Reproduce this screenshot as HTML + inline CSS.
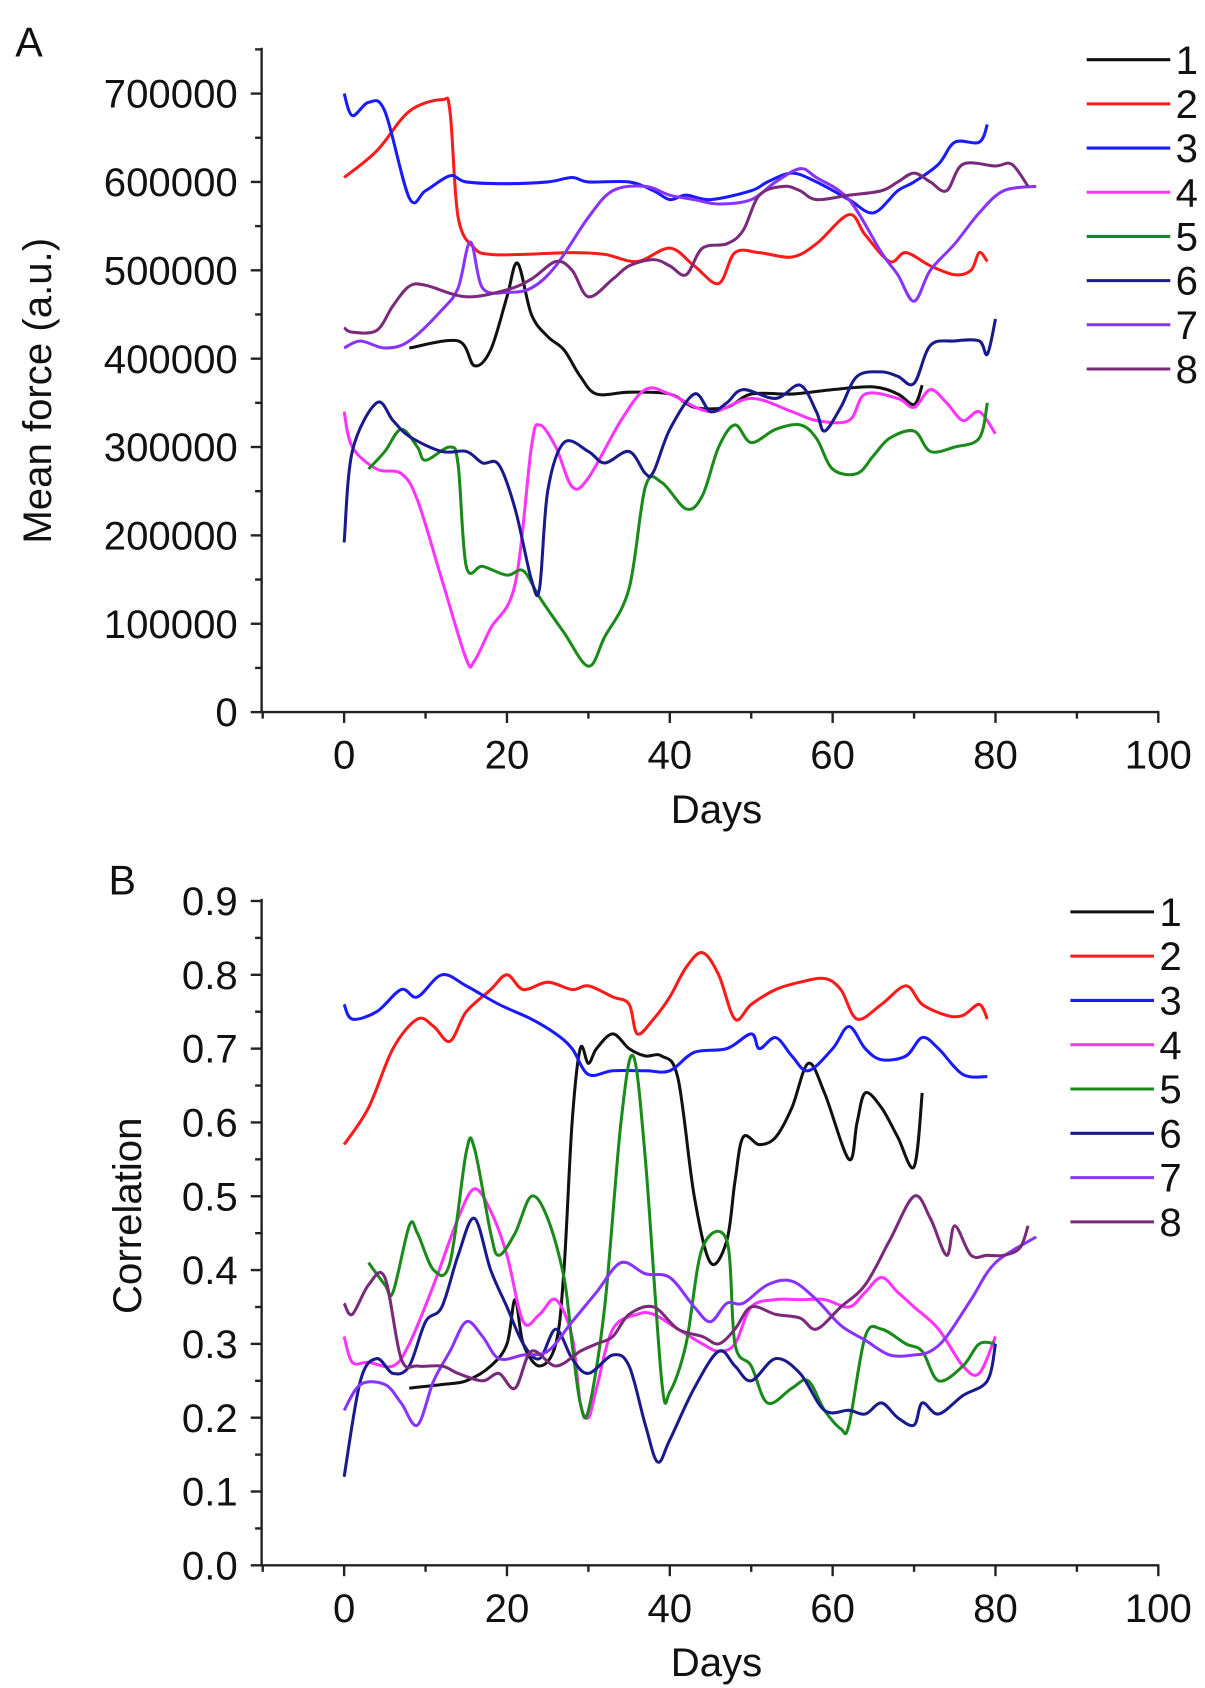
<!DOCTYPE html>
<html><head><meta charset="utf-8"><style>
html,body{margin:0;padding:0;background:#fff}
svg{display:block}
text{font-family:"Liberation Sans",sans-serif;fill:#111}
</style></head><body>
<svg id="fig" width="1205" height="1688" viewBox="0 0 1110 1555" preserveAspectRatio="none" xmlns="http://www.w3.org/2000/svg">
<text x="14" y="52" font-size="38">A</text>
<text x="100" y="824" font-size="38">B</text>
<g id="pa"></g>
<g id="pb"></g>
</svg>
<script>
const colors=["#111111","#ff1a1a","#1a1aff","#ff33ff","#1a8a1a","#1a1a8c","#8833ff","#7a2a7a"];
const seriesNames=["1","2","3","4","5","6","7","8"];
const xTicks=[0,20,40,60,80,100];
const aTicks=[0,100000,200000,300000,400000,500000,600000,700000];
const bTicks=["0.0","0.1","0.2","0.3","0.4","0.5","0.6","0.7","0.8","0.9"];
const a1=[[8,412],[14,420],[16,392],[18,410],[20,470],[21.3,508],[23,450],[25,425],[27,410],[29,380],[31,360],[35,362],[40,360],[43,345],[47,345],[50,360],[55,360],[60,365],[65,368],[68,360],[70,348],[71,370]];
const a2=[[0,605],[4,635],[8,680],[12,693],[13,680],[14,560],[16,525],[18,518],[22,518],[28,520],[32,518],[36,510],[40,525],[43,505],[46,485],[48,520],[51,520],[55,515],[58,530],[62,563],[64,540],[67,510],[69,520],[72,505],[75,495],[77,500],[78,520],[79,510]];
const a3=[[0,700],[1,675],[3,690],[5,680],[8,582],[10,590],[13,607],[15,600],[20,598],[25,600],[28,605],[30,600],[35,600],[38,590],[40,580],[42,585],[45,580],[50,590],[52,600],[55,610],[58,600],[62,580],[65,565],[68,590],[70,600],[73,620],[75,645],[78,645],[79,665]];
const a4=[[0,340],[1,300],[4,275],[7,270],[9,240],[12,150],[15,60],[16,58],[18,95],[21,145],[23,300],[24,325],[26,300],[28,255],[30,265],[34,330],[37,365],[40,360],[45,340],[50,355],[55,340],[58,330],[62,330],[64,360],[68,355],[70,345],[72,365],[74,350],[76,330],[78,340],[80,315]];
const a5=[[3,275],[5,295],[7,320],[9,300],[10,285],[13,300],[14,280],[15,165],[17,165],[20,155],[22,160],[24,130],[27,90],[30,52],[32,85],[35,140],[37,255],[39,260],[42,230],[44,245],[46,300],[48,325],[50,305],[53,320],[56,325],[58,310],[60,275],[63,270],[65,290],[67,310],[70,318],[72,295],[75,300],[78,310],[79,350]];
const a6=[[0,192],[1,295],[4,350],[6,330],[8,312],[12,295],[15,295],[17,282],[19,280],[21,230],[23,150],[24,140],[25,250],[27,305],[30,295],[32,282],[35,295],[37,270],[38,272],[40,320],[43,360],[45,340],[47,350],[49,365],[53,355],[56,370],[58,340],[59,318],[61,345],[63,380],[66,385],[68,380],[70,372],[72,415],[75,420],[78,420],[79,405],[80,445]];
const a7=[[0,412],[2,420],[5,412],[8,420],[12,455],[14,480],[15.5,532],[17,480],[20,475],[23,480],[26,505],[30,560],[33,590],[37,595],[40,585],[43,580],[46,575],[50,580],[53,600],[56,615],[58,605],[62,580],[66,520],[68,495],[70,465],[72,500],[75,530],[78,565],[81,590],[85,595]];
const a8=[[0,435],[1,430],[4,432],[6,460],[8,482],[10,483],[15,470],[20,478],[23,490],[26,510],[28,500],[30,470],[33,490],[35,505],[38,512],[40,505],[42,495],[44,525],[47,530],[49,545],[51,585],[54,595],[56,590],[58,580],[62,585],[66,590],[68,600],[70,610],[72,600],[74,590],[76,620],[80,618],[82,620],[84,595]];
const b1=[[8,0.24],[12,0.245],[15,0.25],[18,0.27],[20,0.3],[21,0.36],[22,0.3],[24,0.27],[26,0.3],[27,0.4],[28,0.6],[29,0.7],[30,0.68],[31,0.7],[33,0.72],[35,0.7],[37,0.69],[39,0.69],[41,0.66],[43,0.5],[45,0.41],[47,0.44],[48,0.52],[49,0.58],[51,0.57],[53,0.58],[55,0.62],[57,0.68],[59,0.64],[62,0.55],[63,0.6],[64,0.64],[66,0.62],[68,0.58],[70,0.54],[71,0.64]];
const b2=[[0,0.57],[3,0.62],[6,0.7],[9,0.74],[11,0.73],[13,0.71],[15,0.75],[18,0.78],[20,0.8],[22,0.78],[25,0.79],[28,0.78],[30,0.785],[33,0.77],[35,0.76],[36,0.72],[38,0.74],[40,0.77],[42,0.81],[44,0.83],[46,0.8],[48,0.74],[50,0.76],[53,0.78],[56,0.79],[59,0.795],[61,0.78],[63,0.74],[66,0.76],[69,0.785],[71,0.76],[74,0.745],[76,0.745],[78,0.76],[79,0.74]];
const b3=[[0,0.76],[1,0.74],[4,0.75],[7,0.78],[9,0.77],[12,0.8],[15,0.785],[19,0.76],[23,0.74],[26,0.72],[28,0.7],[30,0.665],[33,0.67],[37,0.67],[40,0.67],[43,0.695],[47,0.7],[50,0.72],[51,0.7],[53,0.715],[55,0.69],[57,0.67],[60,0.7],[62,0.73],[64,0.7],[66,0.685],[69,0.69],[71,0.715],[73,0.7],[76,0.665],[79,0.662]];
const b4=[[0,0.31],[1,0.275],[3,0.275],[6,0.27],[8,0.3],[11,0.38],[14,0.47],[16,0.51],[18,0.48],[20,0.42],[22,0.33],[24,0.34],[26,0.36],[28,0.31],[29,0.22],[30,0.2],[31,0.24],[33,0.32],[36,0.34],[38,0.34],[41,0.32],[44,0.3],[46,0.29],[48,0.3],[50,0.35],[53,0.36],[56,0.36],[59,0.36],[62,0.35],[64,0.37],[66,0.39],[68,0.37],[70,0.35],[73,0.32],[76,0.27],[78,0.26],[80,0.31]];
const b5=[[3,0.41],[5,0.38],[6,0.37],[8,0.46],[9,0.45],[11,0.4],[13,0.41],[15,0.56],[16,0.565],[18,0.45],[19,0.42],[21,0.45],[23,0.5],[25,0.47],[27,0.39],[28,0.3],[29,0.22],[30,0.21],[32,0.35],[34,0.6],[35.5,0.69],[37,0.55],[39,0.25],[40,0.235],[42,0.3],[44,0.43],[47,0.44],[48,0.3],[50,0.27],[52,0.22],[55,0.24],[57,0.25],[59,0.21],[61,0.185],[62,0.19],[64,0.31],[66,0.32],[69,0.3],[71,0.29],[73,0.25],[76,0.27],[78,0.3],[80,0.3]];
const b6=[[0,0.12],[2,0.25],[4,0.28],[6,0.26],[8,0.27],[10,0.33],[12,0.35],[14,0.42],[16,0.47],[18,0.4],[20,0.35],[22,0.3],[24,0.28],[26,0.32],[28,0.28],[30,0.26],[33,0.285],[35,0.27],[37,0.19],[38.5,0.14],[40,0.17],[43,0.24],[46,0.29],[48,0.27],[50,0.25],[53,0.28],[56,0.26],[59,0.21],[62,0.21],[64,0.205],[66,0.22],[68,0.2],[70,0.19],[71,0.22],[73,0.205],[76,0.23],[79,0.25],[80,0.3]];
const b7=[[0,0.21],[2,0.245],[5,0.245],[7,0.22],[9,0.19],[11,0.25],[13,0.29],[15,0.33],[17,0.31],[19,0.28],[22,0.285],[25,0.29],[28,0.33],[31,0.37],[34,0.41],[37,0.395],[40,0.39],[43,0.35],[45,0.33],[47,0.355],[49,0.355],[52,0.38],[55,0.385],[58,0.36],[61,0.325],[64,0.305],[67,0.285],[70,0.285],[72,0.29],[74,0.31],[77,0.36],[80,0.41],[85,0.445]];
const b8=[[0,0.355],[1,0.34],[3,0.38],[5,0.39],[7,0.28],[9,0.27],[12,0.27],[14,0.26],[17,0.25],[19,0.26],[21,0.24],[23,0.29],[26,0.27],[29,0.29],[31,0.3],[33,0.31],[35,0.34],[38,0.35],[41,0.32],[44,0.31],[46,0.3],[48,0.32],[50,0.35],[53,0.34],[56,0.335],[58,0.32],[61,0.35],[64,0.38],[67,0.44],[70,0.5],[72,0.47],[74,0.42],[75,0.46],[77,0.42],[79,0.42],[81,0.42],[83,0.43],[84,0.46]];

const NS="http://www.w3.org/2000/svg";
function mk(tag,attrs,parent){const e=document.createElementNS(NS,tag);for(const k in attrs)e.setAttribute(k,attrs[k]);parent.appendChild(e);return e;}
function xs(d){return 317+d*7.5;}
function smooth(pts){let s="M"+pts[0][0].toFixed(1)+","+pts[0][1].toFixed(1);
 for(let i=0;i<pts.length-1;i++){const p0=pts[Math.max(0,i-1)],p1=pts[i],p2=pts[i+1],p3=pts[Math.min(pts.length-1,i+2)];
 const c1=[p1[0]+(p2[0]-p0[0])/6,p1[1]+(p2[1]-p0[1])/6],c2=[p2[0]-(p3[0]-p1[0])/6,p2[1]-(p3[1]-p1[1])/6];
 s+="C"+c1[0].toFixed(1)+","+c1[1].toFixed(1)+" "+c2[0].toFixed(1)+","+c2[1].toFixed(1)+" "+p2[0].toFixed(1)+","+p2[1].toFixed(1);}
 return s;}
function panel(g,cfg){
 const ax=mk("g",{},g);
 
 
 const y0=cfg.y0,ytop=cfg.ytop;
 mk("line",{x1:241,y1:ytop,x2:241,y2:y0,stroke:"#222","stroke-width":2.2},ax);
 mk("line",{x1:241,y1:y0,x2:1068,y2:y0,stroke:"#222","stroke-width":2.2},ax);
 for(let d=-10;d<=100;d+=10){const big=d%20===0;
  mk("line",{x1:xs(d),y1:y0,x2:xs(d),y2:y0+(big?10:6),stroke:"#222","stroke-width":2.2},ax);}
 xTicks.forEach(v=>{const t=mk("text",{x:xs(v),y:y0+52,"font-size":37,"text-anchor":"middle"},ax);t.textContent=v;
  
  });
 const xl=mk("text",{x:660,y:y0+102,"font-size":37,"text-anchor":"middle"},ax);xl.textContent="Days";
 
 
 cfg.ticks.forEach((lab,i)=>{const y=cfg.ys(cfg.tickVals[i]);
  mk("line",{x1:231,y1:y,x2:241,y2:y,stroke:"#222","stroke-width":2.2},ax);
  const t=mk("text",{x:219,y:y+13,"font-size":37,"text-anchor":"end"},ax);t.textContent=lab;
  
  });
 cfg.minor.forEach(v=>{const y=cfg.ys(v);mk("line",{x1:235,y1:y,x2:241,y2:y,stroke:"#222","stroke-width":2.2},ax);});
 const yl=mk("text",{x:0,y:0,"font-size":37,"text-anchor":"middle",transform:"translate("+cfg.ylx+","+cfg.ylc+") rotate(-90)"},ax);yl.textContent=cfg.ytitle;
 
 
 cfg.data.forEach((arr,i)=>{const pts=arr.map(p=>[xs(p[0]),cfg.ys(p[1])]);
  const p=mk("path",{d:smooth(pts),fill:"none",stroke:colors[i],"stroke-width":2.8,"stroke-linejoin":"round"},g);
  
  });
 const lg=mk("g",{},g);
 
 
 seriesNames.forEach((n,i)=>{const y=cfg.lgy+i*cfg.lgs;
  const e=mk("g",{},lg);
  
  
  mk("line",{x1:cfg.lgx,y1:y,x2:cfg.lgx+77,y2:y,stroke:colors[i],"stroke-width":2.8},e);
  const t=mk("text",{x:cfg.lgx+82,y:y+13,"font-size":37},e);t.textContent=n;});
}
const aMinor=[];for(let v=50000;v<=750000;v+=100000)aMinor.push(v);
panel(document.getElementById("pa"),{id:"panel-a",y0:656,ytop:44,ys:v=>656-v/100000*81.4,
 ticks:aTicks.map(String),tickVals:aTicks,minor:aMinor,ytitle:"Mean force (a.u.)",ylx:47,ylc:360,
 data:[a1,a2,a3,a4,a5,a6,a7,a8].map(a=>a.map(p=>[p[0],p[1]*1000])),lgx:1001,lgy:55,lgs:40.7});
const bMinor=[];for(let v=0.05;v<0.9;v+=0.1)bMinor.push(v);
panel(document.getElementById("pb"),{id:"panel-b",y0:1442,ytop:828,ys:v=>1442-v*680,
 ticks:bTicks,tickVals:bTicks.map(Number),minor:bMinor,ytitle:"Correlation",ylx:130,ylc:1120,
 data:[b1,b2,b3,b4,b5,b6,b7,b8],lgx:986,lgy:840,lgs:40.8});
</script>
</body></html>
